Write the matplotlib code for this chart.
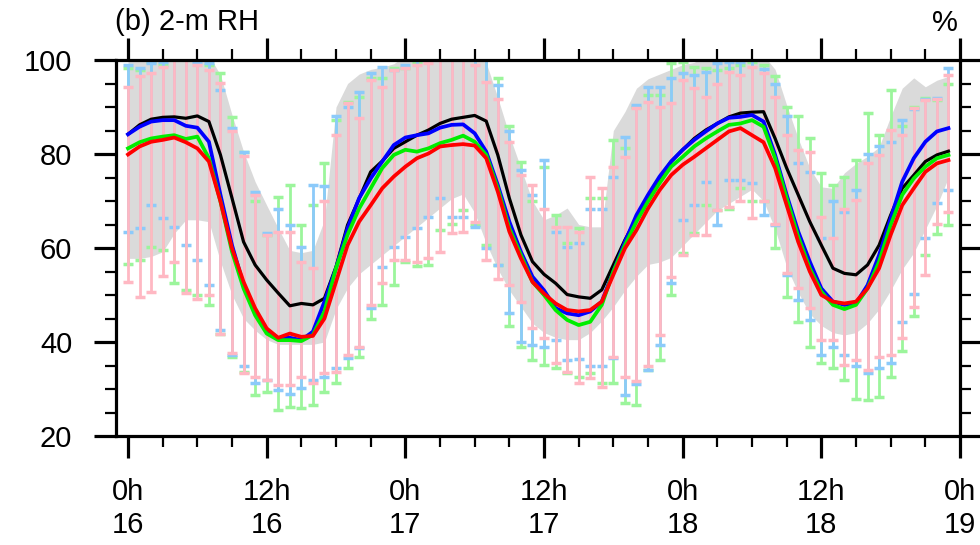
import matplotlib
matplotlib.use("Agg")
import matplotlib.pyplot as plt
import numpy as np

plt.rcParams['font.family'] = ['Liberation Sans', 'DejaVu Sans']

hours = np.arange(72)

# hourly means (%)
rh_black = [84.2, 86.2, 87.4, 87.8, 87.9, 87.6, 88.1, 86.9, 79.8, 70.6, 61.3, 56.4, 53.2, 50.4, 47.7, 48.2, 47.9, 49.3,
            56.0, 64.9, 70.5, 76.2, 78.5, 81.2, 82.6, 84.0, 85.1, 86.5, 87.4, 87.8, 88.2, 87.0, 79.8, 70.6, 62.8, 57.1,
            54.4, 52.5, 50.1, 49.6, 49.3, 51.1, 56.4, 61.7, 66.3, 70.6, 74.8, 78.4, 80.9, 83.3, 85.1, 86.5, 87.9, 88.7,
            88.9, 89.0, 83.3, 77.0, 71.3, 65.6, 60.6, 55.7, 54.6, 54.3, 56.4, 60.6, 67.0, 72.7, 75.5, 78.4, 79.8, 80.6]
rh_blue = [84.2, 85.8, 86.9, 87.2, 87.2, 86.0, 85.6, 82.6, 71.3, 60.6, 52.1, 46.5, 42.6, 40.8, 40.9, 40.4, 42.2, 48.6,
           55.7, 64.2, 70.6, 74.8, 78.4, 81.9, 83.5, 84.0, 84.4, 85.6, 86.2, 86.3, 84.4, 80.5, 73.4, 65.6, 59.2, 53.9,
           51.0, 47.2, 46.1, 45.7, 46.5, 48.6, 55.0, 61.3, 67.0, 71.3, 75.2, 78.4, 80.9, 83.0, 84.8, 86.5, 87.7, 87.9,
           88.3, 86.9, 79.8, 71.3, 63.5, 57.1, 51.4, 48.6, 47.9, 48.2, 52.1, 58.5, 66.3, 74.1, 79.1, 82.6, 84.8, 85.5]
rh_green = [81.2, 82.5, 83.3, 83.7, 84.0, 83.2, 83.7, 79.1, 69.9, 59.2, 51.4, 45.7, 41.8, 40.4, 40.4, 40.2, 41.5, 46.5,
            55.7, 62.8, 68.4, 72.7, 77.0, 79.8, 80.9, 80.5, 81.2, 82.3, 83.0, 83.9, 82.6, 79.8, 72.7, 64.2, 58.5, 52.8,
            50.0, 46.8, 44.7, 43.6, 44.3, 47.9, 55.0, 60.6, 65.6, 69.9, 73.8, 77.3, 79.4, 81.6, 83.3, 84.8, 86.2, 86.5,
            87.2, 85.8, 79.1, 70.6, 62.4, 55.7, 50.7, 47.9, 47.0, 47.9, 51.4, 57.1, 64.9, 71.3, 74.8, 77.3, 79.1, 79.8]
rh_red = [79.9, 81.6, 82.6, 83.0, 83.5, 82.5, 81.2, 78.4, 69.9, 59.9, 52.8, 47.2, 42.9, 40.9, 41.8, 41.1, 41.3, 45.0,
          52.8, 60.6, 65.6, 69.1, 72.7, 75.2, 77.3, 79.1, 80.1, 81.6, 81.9, 82.1, 81.8, 79.1, 72.0, 63.5, 57.8, 52.8,
          50.3, 48.2, 46.8, 46.5, 46.8, 48.6, 54.3, 59.9, 63.8, 68.4, 72.3, 75.5, 77.7, 79.4, 81.2, 83.0, 84.8, 85.5,
          84.0, 82.5, 77.0, 69.1, 61.3, 55.0, 50.0, 48.6, 48.2, 48.6, 51.4, 55.7, 62.8, 69.1, 72.7, 76.2, 78.0, 78.7]

# grey envelope
band_lo = [57.8, 57.8, 58.2, 59.2, 63.1, 66.0, 66.0, 65.6, 57.1, 50.0, 45.0, 42.5, 40.5, 39.5, 39.5, 39.5, 39.5, 40.0,
           47.0, 51.5, 54.5, 56.5, 58.5, 60.5, 62.5, 64.5, 66.5, 68.5, 70.5, 71.5, 67.5, 61.0, 55.5, 51.0, 47.5, 44.0,
           42.0, 41.0, 40.5, 40.5, 42.0, 44.5, 47.5, 51.0, 54.0, 56.5, 57.0, 58.0, 60.5, 63.0, 65.5, 68.0, 69.5, 71.0,
           72.5, 70.0, 64.0, 56.0, 50.5, 46.0, 43.5, 42.0, 41.5, 42.0, 44.0, 47.0, 51.0, 55.5, 59.0, 64.0, 69.0, 75.0]
band_hi = [101, 101, 101, 101, 101, 101, 101, 101, 96.8, 88.3, 80.5, 74.1, 69.1, 64.2, 59.5, 59.0, 59.5, 66.0,
           90.0, 95.0, 97.0, 98.0, 98.5, 99.2, 101, 101, 101, 101, 101, 101, 101, 99.4, 92.0, 84.0, 77.0, 70.0,
           66.0, 67.0, 68.5, 65.0, 64.5, 64.5, 85.0, 89.0, 94.0, 96.0, 97.0, 98.0, 99.0, 99.5, 101, 101, 101, 101,
           101, 101, 98.0, 90.4, 83.3, 77.0, 73.0, 72.7, 76.0, 78.0, 79.5, 81.5, 88.0, 94.0, 96.2, 94.3, 95.7, 96.5]

# spread bars: pink (red run), light blue (blue run), light green (green run)
pink_lo = [52.8, 49.6, 50.6, 54.1, 57.0, 50.4, 49.1, 49.9, 41.6, 37.6, 33.3, 32.6, 31.9, 30.9, 30.9, 32.6, 31.2, 33.3,
           33.7, 37.2, 39.0, 47.9, 52.5, 57.4, 57.4, 57.1, 57.8, 59.2, 63.1, 63.5, 65.6, 57.4, 53.5, 52.1, 48.6, 42.9,
           40.8, 35.5, 33.7, 31.2, 32.3, 30.5, 36.9, 32.6, 31.6, 34.8, 41.5, 53.9, 58.5, 62.8, 62.8, 68.1, 68.8, 69.9,
           66.3, 69.9, 65.2, 54.6, 51.4, 47.2, 40.4, 40.4, 35.1, 36.2, 34.0, 36.9, 37.2, 40.8, 47.5, 54.3, 65.2, 67.7]
pink_hi = [94.3, 96.5, 97.2, 98.6, 102, 102, 98.9, 97.9, 95.1, 85.0, 79.5, 71.3, 62.8, 63.5, 63.5, 57.1, 55.7, 69.9,
           84.0, 90.8, 87.6, 95.7, 94.3, 97.9, 98.2, 98.9, 99.3, 102, 102, 102, 98.9, 95.4, 91.8, 82.6, 75.5, 73.4,
           68.4, 64.5, 64.5, 63.5, 75.2, 72.7, 77.3, 79.4, 89.7, 91.1, 90.1, 90.8, 95.7, 94.0, 92.2, 95.0, 97.5, 96.8,
           98.6, 97.2, 92.2, 84.0, 80.9, 80.5, 66.7, 62.1, 68.4, 70.2, 78.0, 79.8, 85.1, 84.0, 89.7, 91.5, 91.8, 96.8]
blue_lo = [63.5, 64.2, 69.1, 66.3, 64.5, 60.6, 57.4, 52.1, 42.6, 37.2, 34.8, 31.2, 31.9, 29.8, 29.0, 30.2, 32.0, 32.6,
           34.4, 36.5, 38.7, 47.2, 56.0, 60.3, 62.4, 64.2, 66.7, 70.6, 66.7, 66.7, 64.5, 59.9, 56.4, 46.1, 40.1, 39.4,
           39.0, 40.4, 36.2, 36.4, 34.8, 34.8, 36.5, 28.7, 31.0, 34.0, 39.4, 52.5, 66.0, 69.1, 74.1, 64.9, 74.5, 74.5,
           73.8, 67.0, 64.9, 54.3, 48.9, 44.7, 37.2, 39.0, 37.2, 35.0, 33.5, 34.4, 35.5, 44.3, 50.3, 62.1, 69.5, 72.3]
blue_hi = [98.9, 98.2, 99.3, 99.6, 102, 102, 99.6, 99.4, 93.6, 85.5, 80.5, 72.0, 63.1, 68.4, 64.9, 60.3, 73.4, 73.1,
           88.0, 90.0, 93.1, 97.2, 98.5, 97.9, 98.9, 100.5, 102, 102, 102, 102, 102, 102, 94.7, 84.8, 76.6, 71.3,
           78.7, 63.3, 60.3, 61.0, 68.4, 68.4, 75.2, 83.7, 90.4, 94.3, 94.3, 96.1, 97.2, 96.8, 97.5, 99.3, 99.6, 99.6,
           102, 98.0, 95.0, 88.0, 78.0, 76.2, 62.1, 69.9, 67.7, 72.3, 80.0, 81.7, 82.6, 87.3, 89.6, 91.7, 92.0, 98.2]
green_lo = [56.7, 57.4, 60.3, 59.6, 52.5, 51.1, 50.1, 47.9, 41.8, 36.9, 33.7, 28.7, 29.4, 25.5, 26.2, 25.9, 26.6, 29.4,
            31.2, 34.4, 36.9, 45.0, 47.9, 52.1, 57.1, 56.2, 56.4, 63.8, 65.2, 68.1, 65.0, 60.6, 56.4, 43.3, 39.0, 36.2,
            35.1, 34.4, 33.3, 32.6, 33.3, 31.2, 31.2, 27.0, 26.6, 34.0, 36.2, 50.1, 58.9, 63.2, 69.1, 68.1, 68.4, 72.7,
            69.9, 69.9, 59.9, 49.6, 44.3, 39.0, 35.5, 34.4, 31.9, 27.8, 27.6, 28.4, 32.6, 38.0, 45.5, 58.5, 63.0, 64.9]
green_hi = [98.2, 97.9, 99.5, 99.0, 102, 102, 100.5, 99.0, 97.2, 87.9, 80.5, 69.9, 62.8, 70.9, 73.3, 65.0, 69.1, 78.0,
            87.2, 91.0, 92.2, 96.1, 96.1, 98.2, 98.2, 99.5, 102, 102, 102, 102, 102, 102, 96.1, 86.0, 78.4, 69.9,
            77.3, 67.0, 61.0, 64.2, 70.6, 70.6, 83.0, 81.2, 90.0, 92.5, 92.6, 99.3, 99.6, 98.6, 98.2, 97.9, 98.2, 98.9,
            99.6, 99.0, 96.5, 90.0, 88.0, 83.3, 76.0, 73.4, 75.2, 78.7, 88.7, 84.0, 93.6, 86.0, 90.0, 92.0, 91.5, 95.0]

tick_hours = [0, 12, 24, 36, 48, 60, 72]
tick_labels = ["0h\n16", "12h\n16", "0h\n17", "12h\n17", "0h\n18", "12h\n18", "0h\n19"]


def spread(ax, lo, hi, color):
    lo = np.array(lo)
    hi = np.array(hi)
    mid = (lo + hi) / 2
    _, caps, bars = ax.errorbar(hours, mid, yerr=[mid - lo, hi - mid], fmt='none', ecolor=color,
                                elinewidth=2.0, capsize=3.6, capthick=2.5, zorder=2)
    for c in caps:
        c.set_solid_capstyle('round')


fig = plt.figure(figsize=(9.8, 5.45), dpi=100)
ax = fig.add_axes([116 / 980, 1 - 436 / 545, (960 - 116) / 980, (436 - 60) / 545])

ax.fill_between(hours, band_lo, band_hi, color='#dadada', lw=0, zorder=1)

spread(ax, green_lo, green_hi, '#9cf59c')
spread(ax, blue_lo, blue_hi, '#8ccafa')
spread(ax, pink_lo, pink_hi, '#ffb8c3')

ax.plot(hours, rh_black, color='black', lw=2.3, zorder=4)
ax.plot(hours, rh_blue, color='blue', lw=2.7, zorder=4)
ax.plot(hours, rh_green, color='#00ee00', lw=2.7, zorder=4)
ax.plot(hours, rh_red, color='red', lw=2.7, zorder=4)

ax.set_xlim(-1.04, 72)
ax.set_ylim(20, 100)
ax.set_xticks(tick_hours)
ax.set_xticklabels(tick_labels, linespacing=1.2)
ax.set_xticks(np.arange(0, 72, 3), minor=True)
ax.set_yticks([20, 40, 60, 80, 100])
ax.set_yticks(np.arange(20, 101, 5), minor=True)

for s in ax.spines.values():
    s.set_linewidth(2.3)

ax.tick_params(which='both', direction='out', top=True, right=True, labelsize=21)
ax.tick_params(which='major', length=15.5, width=2.3)
ax.tick_params(which='minor', length=8, width=1.6)
ax.tick_params(axis='y', which='major', pad=16)
ax.tick_params(axis='x', which='major', pad=15)

fig.text(115 / 980, 1 - 30 / 545, "(b) 2-m RH", fontsize=21, ha='left', va='baseline')
fig.text(958 / 980, 1 - 31 / 545, "%", fontsize=21, ha='right', va='baseline')

fig.savefig("out.png", dpi=100)
